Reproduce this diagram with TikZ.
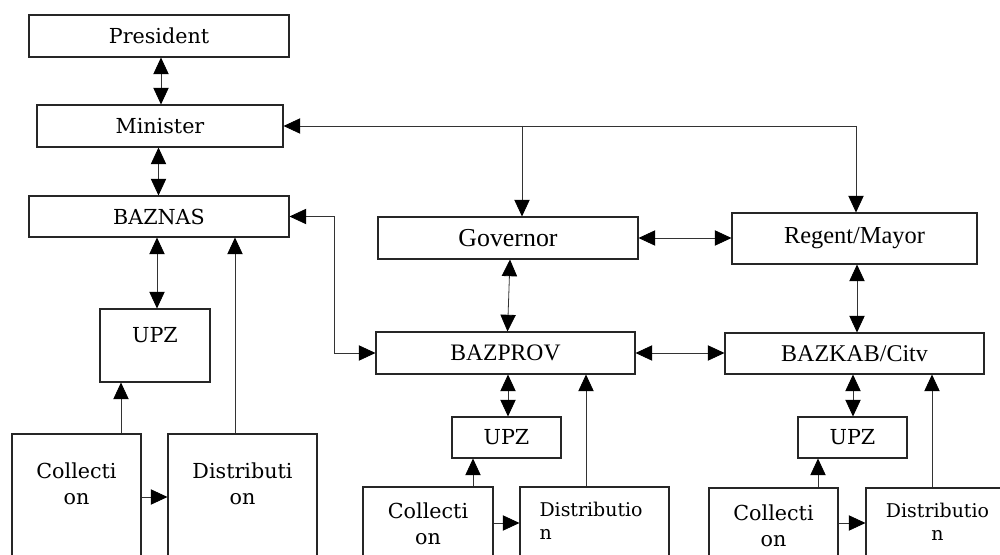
\documentclass[tikz,border=0pt]{standalone}
\usepackage{fontspec}
\setmainfont{DejaVu Serif}
\newfontfamily\tms{Liberation Serif}
\usetikzlibrary{arrows.meta}
\begin{document}
\begin{tikzpicture}[x=0.75pt,y=-0.75pt,
  box/.style={draw=black!85,line width=0.8pt,inner sep=0pt,rectangle},
  sz/.style 2 args={minimum width=#1*0.75pt,minimum height=#2*0.75pt},
  fa/.style={font=\fontsize{15.5}{19.5}\selectfont},
  fd/.style={font=\fontsize{14.2}{17.25}\selectfont},
  fb/.style={font=\tms\fontsize{#1}{#1}\selectfont},
  con/.style={line width=0.6pt,draw=black!80},
  arr/.style={con,-{Triangle[length=12.5pt,width=11.5pt,color=black]}},
  dbl/.style={con,{Triangle[length=12.5pt,width=11.5pt,color=black]}-{Triangle[length=12.5pt,width=11.5pt,color=black]}},
  lbl/.style={inner sep=0pt,anchor=north,align=center}]
\path[use as bounding box,fill=white] (0,0) rectangle (1000,555);

% left column
\node[box,fa,sz={260}{42}] (pres) at (159,36) {President};
\node[box,fa,sz={246}{42}] (min) at (160,126) {Minister};
\node[box,fa,sz={260}{41}] (baznas) at (159,216.5) {BAZNAS};
\node[box,sz={110}{73},label={[fa,lbl,yshift=-14.25pt]north:UPZ}] (upzL) at (155,345.5) {};
\node[box,sz={129}{146},label={[fa,lbl,yshift=-21.75pt]north:{Collecti\\on}}] (colL) at (76.5,507) {};
\node[box,sz={149}{146},label={[fa,lbl,yshift=-21.75pt]north:{Distributi\\on}}] (distL) at (242.5,507) {};

% right part
\node[box,fb=19.4,sz={260}{42}] (gov) at (508,238) {Governor};
\node[box,fb=18.3,sz={245}{51}] (reg) at (854.5,238.5) {Regent/Mayor};
\node[box,fb=17.7,sz={259}{42}] (bazprov) at (505.5,353) {BAZPROV};
\node[box,fb=18,sz={259}{41}] (bazkab) at (854.5,353.5) {BAZKAB/Citv};
\node[box,fa,sz={109}{41}] (upzM) at (506.5,437.5) {UPZ};
\node[box,fa,sz={109}{41}] (upzR) at (852.5,437.5) {UPZ};
\node[box,sz={130}{93},label={[fa,lbl,yshift=-12pt]north:{Collecti\\on}}] (colM) at (428,533.5) {};
\node[box,sz={149}{93},label={[fd,lbl,align=left,xshift=-2.6pt,yshift=-11.25pt]north:{Distributio\\n}}] (distM) at (594.5,533.5) {};
\node[box,sz={129}{92},label={[fa,lbl,yshift=-12.75pt]north:{Collecti\\on}}] (colR) at (773.5,534) {};
\node[box,sz={143}{92},label={[fd,lbl,yshift=-11.25pt]north:{Distributio\\n}}] (distR) at (937.5,534) {};

% connectors, left column
\draw[dbl] (pres.south -| 161,0) -- (min.north -| 161,0);
\draw[dbl] (min.south -| 158.5,0) -- (baznas.north -| 158.5,0);
\draw[dbl] (baznas.south -| 157,0) -- (upzL.north -| 157,0);
\draw[arr] (colL.north -| 121,0) -- (upzL.south -| 121,0);
\draw[arr] (distL.north -| 235,0) -- (baznas.south -| 235,0);
\draw[arr] (colL.east |- 0,497) -- (distL.west |- 0,497);

% minister to governor / regent
\coordinate (j1) at (522,126);
\coordinate (j2) at (856,126);
\draw[arr] (j2) -- (min.east);
\draw[arr] (j1) -- (gov.north -| j1);
\draw[arr] (j2) -- (reg.north -| j2);

% baznas to bazprov
\coordinate (k) at (334,216.5);
\draw[dbl] (baznas.east) -- (k) |- (bazprov.west);

% right part
\draw[dbl] (gov.east) -- (reg.west |- gov.east);
\draw[dbl] (gov.south -| 510,0) -- (bazprov.north -| 507.5,0);
\draw[dbl] (reg.south -| 857,0) -- (bazkab.north -| 857,0);
\draw[dbl] (bazprov.east) -- (bazkab.west |- bazprov.east);
\draw[dbl] (bazprov.south -| 508,0) -- (upzM.north -| 508,0);
\draw[arr] (colM.north -| 473,0) -- (upzM.south -| 473,0);
\draw[arr] (distM.north -| 586,0) -- (bazprov.south -| 586,0);
\draw[arr] (colM.east |- 0,523) -- (distM.west |- 0,523);
\draw[dbl] (bazkab.south -| 853,0) -- (upzR.north -| 853,0);
\draw[arr] (colR.north -| 818,0) -- (upzR.south -| 818,0);
\draw[arr] (distR.north -| 932,0) -- (bazkab.south -| 932,0);
\draw[arr] (colR.east |- 0,523) -- (distR.west |- 0,523);
\end{tikzpicture}
\end{document}
